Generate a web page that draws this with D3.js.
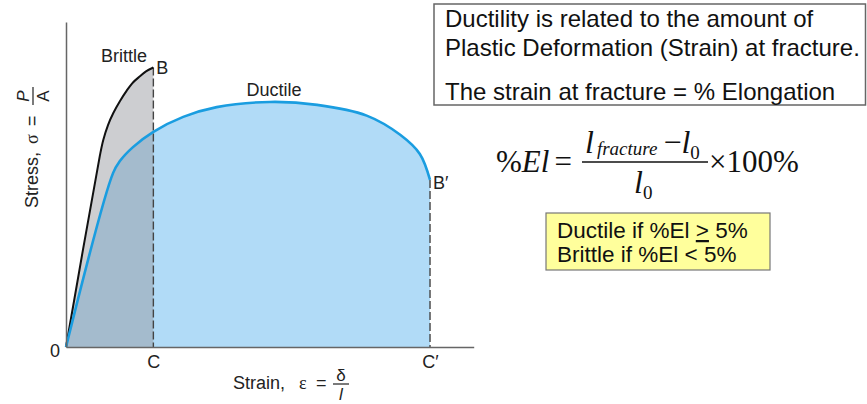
<!DOCTYPE html>
<html lang="en">
<head>
<meta charset="UTF-8">
<title>Stress-strain: brittle vs ductile</title>
<script src="https://d3js.org/d3.v7.min.js"></script>
<style>
  body { margin: 0; background: #fff; }
  svg { display: block; font-family: "Liberation Sans", Arial, sans-serif; }
</style>
</head>
<body>
<div id="chart"></div>
<script>
// curves (strain in arbitrary units, stress in %)
const brittleStrain = [0, 4.67, 5.12, 5.77, 6.5, 7.42, 8.34, 9.2, 10.16, 10.99, 12];
const brittleStress = [0, 59.1, 63.7, 68.3, 72.0, 75.7, 78.9, 81.4, 83.3, 84.8, 86];
const ductileStrain = [0, 6.46, 7.4, 9.2, 12, 16.1, 20.7, 28, 34.5, 41.3, 45.9, 48.6, 50];
const ductileStress = [0, 53.5, 57.2, 61.5, 66.2, 70.8, 73.8, 75.4, 74.5, 71.2, 65.3, 59.4, 51.4];
const fractureStrain = [12, 50];
const fractureTicks = ["C", "C\u2032"];
const boxLines = ["Ductility is related to the amount of",
                  "Plastic Deformation (Strain) at fracture.",
                  "The strain at fracture = % Elongation"];
const ruleLines = ["Ductile if %El ", "5%", "Brittle if %El < 5%"];

const W = 867, H = 404;
const svg = d3.select("#chart").append("svg").attr("width", W).attr("height", H);

const x = d3.scaleLinear().domain([0, 56]).range([66, 473.7]);
const y = d3.scaleLinear().domain([0, 100]).range([347, 22]);

const brittle = brittleStrain.map((s, i) => [s, brittleStress[i]]);
const ductile = ductileStrain.map((s, i) => [s, ductileStress[i]]);

const smooth = d3.curveCatmullRom.alpha(0.5);
const area = d3.area().x(d => x(d[0])).y0(y(0)).y1(d => y(d[1])).curve(smooth);
const line = d3.line().x(d => x(d[0])).y(d => y(d[1])).curve(smooth);

// fills: ductile blue, brittle gray laid over it (overlap gets darker)
svg.append("path").attr("d", area(ductile)).attr("fill", "#b1dbf7");
svg.append("path").attr("d", area(brittle)).attr("fill", "rgba(150,153,158,0.48)");

// dashed drop lines at fracture
svg.selectAll(".drop").data([brittle[brittle.length - 1], ductile[ductile.length - 1]])
  .enter().append("line")
  .attr("x1", d => x(d[0])).attr("x2", d => x(d[0]))
  .attr("y1", d => y(d[1])).attr("y2", y(0))
  .attr("stroke", "#444").attr("stroke-width", 1.4).attr("stroke-dasharray", "8,3");

svg.append("path").attr("d", line(brittle)).attr("fill", "none")
  .attr("stroke", "#111").attr("stroke-width", 2);
svg.append("path").attr("d", line(ductile)).attr("fill", "none")
  .attr("stroke", "#1a9de0").attr("stroke-width", 2.6);

// axes
const xAxis = svg.append("g").attr("transform", `translate(0,${y(0)})`)
  .call(d3.axisBottom(x).tickValues(fractureStrain)
    .tickFormat((d, i) => fractureTicks[i]).tickSize(0).tickPadding(8));
const yAxis = svg.append("g").attr("transform", `translate(${x(0)},0)`)
  .call(d3.axisLeft(y).tickValues([]).tickSizeOuter(0));
svg.selectAll(".domain").attr("stroke", "#666").attr("stroke-width", 1.5);
xAxis.selectAll("text").attr("font-size", 18).attr("fill", "#222")
  .attr("font-family", "'Liberation Sans', Arial, sans-serif");

const lab = (t, px, py, opts = {}) => svg.append("text").attr("x", px).attr("y", py)
  .attr("font-size", opts.size || 18).attr("fill", "#222")
  .attr("text-anchor", opts.anchor || "start").text(t);

lab("0", 55, 357, {anchor: "middle"});
lab("Brittle", 124, 62, {anchor: "middle"});
lab("B", x(12) + 3, 74);
lab("Ductile", 274, 96, {anchor: "middle"});
lab("B\u2032", x(50) + 3, 189);

// x label: Strain, ε = δ / l
const xl = svg.append("g").attr("fill", "#222");
xl.append("text").attr("x", 233).attr("y", 389).attr("font-size", 18).text("Strain,");
xl.append("text").attr("x", 299).attr("y", 389).attr("font-size", 18)
  .attr("font-family", "'Liberation Serif', serif").text("\u03b5");
xl.append("text").attr("x", 316).attr("y", 389).attr("font-size", 18).text("=");
xl.append("text").attr("x", 341).attr("y", 381).attr("font-size", 17)
  .attr("text-anchor", "middle").text("\u03b4");
xl.append("line").attr("x1", 333).attr("x2", 349).attr("y1", 384).attr("y2", 384)
  .attr("stroke", "#222").attr("stroke-width", 1.2);
xl.append("text").attr("x", 341).attr("y", 400).attr("font-size", 17)
  .attr("font-style", "italic").attr("text-anchor", "middle").text("l");

// y label (rotated): Stress, σ = P / A
const yl = svg.append("g").attr("transform", "translate(38,208) rotate(-90)").attr("fill", "#222");
yl.append("text").attr("x", 0).attr("y", 0).attr("font-size", 18).text("Stress,");
yl.append("text").attr("x", 64).attr("y", 0).attr("font-size", 18)
  .attr("font-family", "'Liberation Serif', serif").text("\u03c3");
yl.append("text").attr("x", 82).attr("y", 0).attr("font-size", 18).text("=");
yl.append("text").attr("x", 112).attr("y", -9).attr("font-size", 17)
  .attr("font-style", "italic").attr("text-anchor", "middle").text("P");
yl.append("line").attr("x1", 103).attr("x2", 121).attr("y1", -5).attr("y2", -5)
  .attr("stroke", "#222").attr("stroke-width", 1.2);
yl.append("text").attr("x", 112).attr("y", 11).attr("font-size", 17)
  .attr("text-anchor", "middle").text("A");

// definition box
svg.append("rect").attr("x", 434).attr("y", 4).attr("width", 431.5).attr("height", 101)
  .attr("fill", "#fff").attr("stroke", "#666").attr("stroke-width", 1.5);
svg.selectAll(".box-line").data(boxLines).enter().append("text")
  .attr("x", 445).attr("y", (d, i) => [27, 56, 100][i])
  .attr("font-size", 24).attr("fill", "#111").text(d => d);

// formula %El = (l_fracture - l0) / l0 x 100%
const f = svg.append("g").attr("font-family", "'Liberation Serif', 'Times New Roman', serif").attr("fill", "#111");
const ft = f.append("text").attr("x", 496).attr("y", 172).attr("font-size", 31);
ft.append("tspan").text("%");
ft.append("tspan").attr("font-style", "italic").text("El");
ft.append("tspan").attr("dx", 5).text("=");
const num = f.append("text").attr("x", 585).attr("y", 153).attr("font-size", 32);
num.append("tspan").attr("font-style", "italic").text("l");
num.append("tspan").attr("font-style", "italic").attr("font-size", 19).attr("dy", 2).attr("dx", 3).text("fracture");
num.append("tspan").attr("dy", -2).attr("dx", 6).text("\u2212");
num.append("tspan").attr("font-style", "italic").text("l");
num.append("tspan").attr("font-size", 19).attr("dy", 6).text("0");
f.append("line").attr("x1", 582).attr("x2", 708).attr("y1", 162).attr("y2", 162)
  .attr("stroke", "#111").attr("stroke-width", 1.5);
const den = f.append("text").attr("x", 634).attr("y", 193).attr("font-size", 32);
den.append("tspan").attr("font-style", "italic").text("l");
den.append("tspan").attr("font-size", 19).attr("dy", 6).text("0");
f.append("text").attr("x", 709).attr("y", 172).attr("font-size", 31).text("\u00d7100%");

// rule box
svg.append("rect").attr("x", 546).attr("y", 213).attr("width", 224).attr("height", 57)
  .attr("fill", "#ffff9c").attr("stroke", "#777").attr("stroke-width", 1.2);
const r1 = svg.append("text").attr("x", 557).attr("y", 238).attr("font-size", 22.5).attr("fill", "#111");
r1.append("tspan").text(ruleLines[0]);
r1.append("tspan").style("text-decoration", "underline").text(">");
r1.append("tspan").text(" " + ruleLines[1]);
svg.append("text").attr("x", 557).attr("y", 262).attr("font-size", 22.5).attr("fill", "#111").text(ruleLines[2]);
</script>
</body>
</html>
